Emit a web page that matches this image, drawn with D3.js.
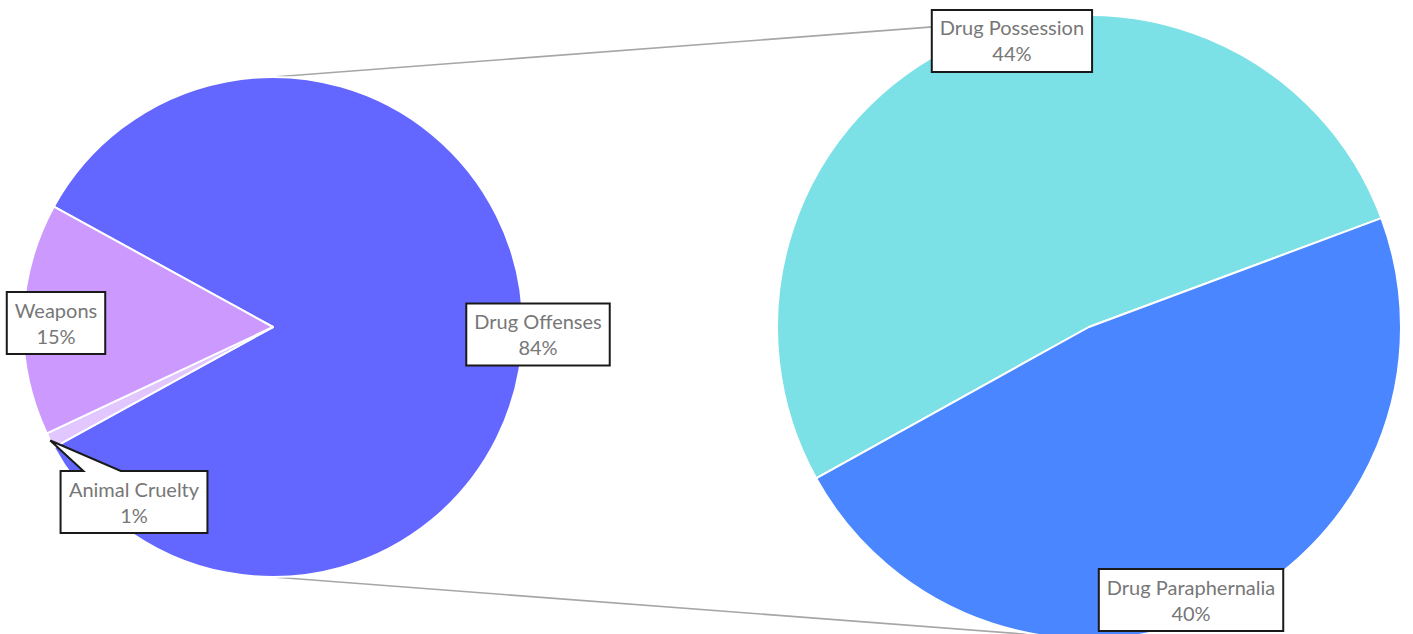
<!DOCTYPE html>
<html><head><meta charset="utf-8">
<script src="https://cdn.jsdelivr.net/npm/d3@7"></script>
<style>html,body{margin:0;padding:0;background:#fff;} svg{display:block;}</style>
</head><body><svg id="chart" width="1413" height="634"></svg>
<script>
// ---- data ----
const mainCategories = ["Drug Offenses", "Animal Cruelty", "Weapons"];
const mainValues = [84, 1, 15];
const subCategories = ["Drug Possession", "Drug Paraphernalia"];
const subValues = [44, 40];

// ---- styles / layout ----
const colors = d3.scaleOrdinal()
  .domain(["Drug Offenses", "Animal Cruelty", "Weapons", "Drug Possession", "Drug Paraphernalia"])
  .range(["#6366ff", "#e2c6ff", "#cc99ff", "#7be1e6", "#4a86ff"]);
const mainPie = {cx: 273, cy: 327, r: 250};
const subPie = {cx: 1089, cy: 327, r: 312};
// label centres as fractions of radius relative to pie centre
const labelOffsets = {
  "Drug Offenses": [1.06, 0.03],
  "Weapons": [-0.868, -0.016],
  "Animal Cruelty": [-0.556, 0.70],
  "Drug Possession": [-0.247, -0.917],
  "Drug Paraphernalia": [0.327, 0.875]
};

const svg = d3.select("#chart");
const total = d3.sum(mainValues);
const pct = d3.format(".0%");
const deg = Math.PI / 180;

// connector lines (drawn first, behind pies)
const conn = svg.append("g");
[[-1], [1]].forEach(([s]) => {
  conn.append("line")
    .attr("x1", mainPie.cx).attr("y1", mainPie.cy + s * mainPie.r)
    .attr("x2", subPie.cx).attr("y2", subPie.cy + s * subPie.r)
    .attr("stroke", "#a6a6a6").attr("stroke-width", 1.6);
});

// main pie
const otherFrac = mainValues[0] / total;
const mainStart = Math.PI / 2 - otherFrac * Math.PI;
const mainArcs = d3.pie().sort(null).value(d => d.v)
  .startAngle(mainStart).endAngle(mainStart + 2 * Math.PI)(
    mainCategories.map((c, i) => ({c, v: mainValues[i]})));
const arcMain = d3.arc().innerRadius(0).outerRadius(mainPie.r);
const gMain = svg.append("g").attr("transform", `translate(${mainPie.cx},${mainPie.cy})`);
gMain.selectAll("path").data(mainArcs).join("path")
  .attr("d", arcMain).attr("fill", d => colors(d.data.c))
  .attr("stroke", "#fff").attr("stroke-width", 2).attr("stroke-linejoin", "round");

// sub pie
const subStart = -119 * deg;
const subArcs = d3.pie().sort(null).value(d => d.v)
  .startAngle(subStart).endAngle(subStart + 2 * Math.PI)(
    subCategories.map((c, i) => ({c, v: subValues[i]})));
const arcSub = d3.arc().innerRadius(0).outerRadius(subPie.r);
const gSub = svg.append("g").attr("transform", `translate(${subPie.cx},${subPie.cy})`);
gSub.selectAll("path").data(subArcs).join("path")
  .attr("d", arcSub).attr("fill", d => colors(d.data.c))
  .attr("stroke", "#fff").attr("stroke-width", 2).attr("stroke-linejoin", "round");

// labels
function drawLabel(pie, name, value, tipArc) {
  const [fx, fy] = labelOffsets[name];
  const cx = pie.cx + fx * pie.r, cy = pie.cy + fy * pie.r;
  const g = svg.append("g");
  const box = g.append("path");
  const t = g.append("text").attr("text-anchor", "middle")
    .attr("font-family", "Lato, 'Open Sans', sans-serif").attr("font-size", 20)
    .attr("fill", "#777");
  t.append("tspan").attr("x", cx).attr("y", cy - 5.5).text(name);
  t.append("tspan").attr("x", cx).attr("y", cy + 20.5).text(pct(value / total));
  const w = t.node().getBBox().width + 16, h = 62;
  const x0 = cx - w / 2, y0 = cy - h / 2, x1 = cx + w / 2, y1 = cy + h / 2;
  let d;
  if (tipArc) {
    const a = (tipArc.startAngle + tipArc.endAngle) / 2;
    const tx = pie.cx + Math.sin(a) * pie.r, ty = pie.cy - Math.cos(a) * pie.r;
    const b1 = x0 + w * 0.155, b2 = x0 + w * 0.41;
    d = `M${x0},${y0} L${b1},${y0} L${tx},${ty} L${b2},${y0} L${x1},${y0} L${x1},${y1} L${x0},${y1} Z`;
  } else {
    d = `M${x0},${y0} L${x1},${y0} L${x1},${y1} L${x0},${y1} Z`;
  }
  box.attr("d", d).attr("fill", "#fff").attr("stroke", "#1a1a1a").attr("stroke-width", 2)
    .attr("stroke-linejoin", "miter");
}
mainArcs.forEach(a => drawLabel(mainPie, a.data.c, a.data.v, a.data.c === "Animal Cruelty" ? a : null));
subArcs.forEach(a => drawLabel(subPie, a.data.c, a.data.v, null));
</script>
</body></html>
